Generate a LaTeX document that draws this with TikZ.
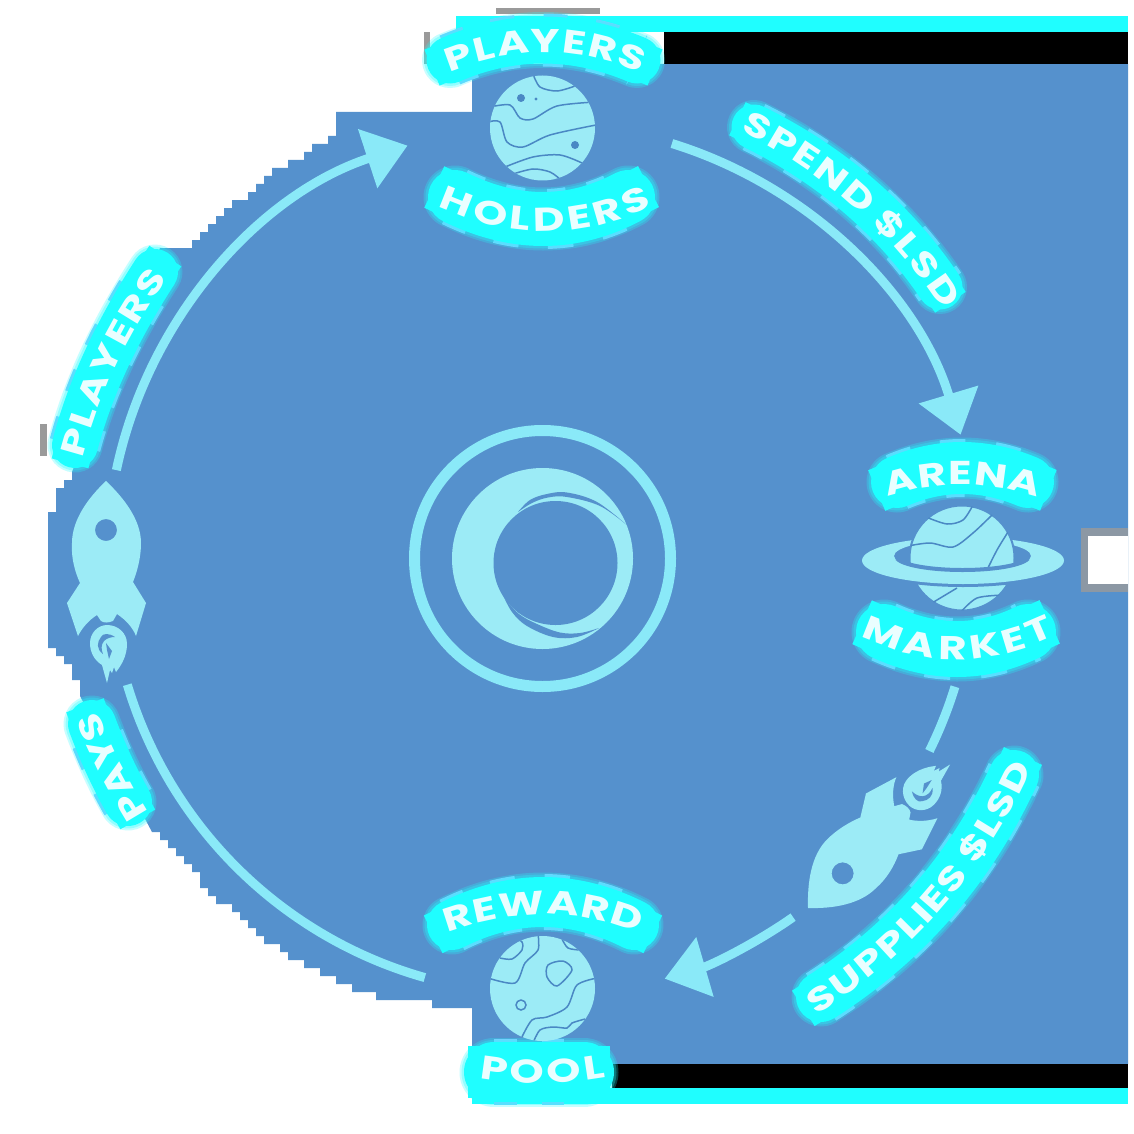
\documentclass[tikz,border=0pt]{standalone}
\usepackage{fontspec}
\usetikzlibrary{decorations.text,arrows.meta}
\newfontfamily\labface{Poppins}[FakeStretch=1.32]
\definecolor{bgblue}{HTML}{5591CD}
\definecolor{glowcyan}{HTML}{1FFEFF}
\definecolor{halo}{HTML}{8FC4FF}
\definecolor{palecyan}{HTML}{9CEBF6}
\definecolor{flowcyan}{HTML}{8AE9F8}
\definecolor{inkline}{HTML}{4A88C4}
\definecolor{labwhite}{HTML}{EAFEFF}
\definecolor{edgegray}{HTML}{9A9A9A}
\tikzset{
  planetbody/.style={circle,fill=palecyan,inner sep=0pt,minimum size=105pt},
  inkcurve/.style={draw=inkline,line width=1.5pt},
  flowline/.style={draw=flowcyan,fill=none,line width=9pt},
  flowhead/.style={-{Triangle[length=42pt,width=60pt,fill=flowcyan]}},
  bgcut/.style={fill=bgblue}
}
\newcommand\labsize{\fontsize{33}{33}\selectfont\labface\bfseries}
\newcommand\KK{\kern2.6pt}
\newcommand\KT{\kern1.2pt}
\newcommand\QC[6]{%
 \pgfmathsetmacro\qax{#1+2/3*(2*#3-(#1+#5)/2-#1)}%
 \pgfmathsetmacro\qay{#2+2/3*(2*#4-(#2+#6)/2-#2)}%
 \pgfmathsetmacro\qbx{#5+2/3*(2*#3-(#1+#5)/2-#5)}%
 \pgfmathsetmacro\qby{#6+2/3*(2*#4-(#2+#6)/2-#6)}%
}
\newcommand\labelband[7]{%
 \QC{#1}{#2}{#3}{#4}{#5}{#6}%
 \draw[halo,line cap=butt,dash pattern=on 22pt off 26pt,line width={#7+6}] (#1,#2) .. controls (\qax,\qay) and (\qbx,\qby) .. (#5,#6);
 \draw[glowcyan,opacity=.25,line cap=round,line width={#7+9}] (#1,#2) .. controls (\qax,\qay) and (\qbx,\qby) .. (#5,#6);
 \draw[glowcyan,opacity=.3,line cap=round,line width={#7+5}] (#1,#2) .. controls (\qax,\qay) and (\qbx,\qby) .. (#5,#6);
 \draw[glowcyan,line cap=round,line width={#7}] (#1,#2) .. controls (\qax,\qay) and (\qbx,\qby) .. (#5,#6);
 \draw[glowcyan,line cap=rect,line width={#7-8}] (#1,#2) .. controls (\qax,\qay) and (\qbx,\qby) .. (#5,#6);
}
\newcommand\labeltext[7]{%
 \QC{#1}{#2}{#3}{#4}{#5}{#6}%
 \path[decorate,decoration={text along path,text={|\labsize|#7},text align=center,text color=labwhite,raise=-11.5pt}]
   (#1,#2) .. controls (\qax,\qay) and (\qbx,\qby) .. (#5,#6);
}
% #1,#2 names; #3 radius; #4,#5 angles; #6 options
\newcommand\flowarc[6]{%
 \pgfmathsetmacro\kk{4/3*tan((#5-#4)/4)*#3}%
 \pgfmathsetmacro\pax{543+#3*cos(#4)}\pgfmathsetmacro\pay{560+#3*sin(#4)}%
 \pgfmathsetmacro\pbx{543+#3*cos(#5)}\pgfmathsetmacro\pby{560+#3*sin(#5)}%
 \pgfmathsetmacro\cax{\pax-\kk*sin(#4)}\pgfmathsetmacro\cay{\pay+\kk*cos(#4)}%
 \pgfmathsetmacro\cbx{\pbx+\kk*sin(#5)}\pgfmathsetmacro\cby{\pby-\kk*cos(#5)}%
 \coordinate (#1) at (\pax,\pay);
 \coordinate (#2) at (\pbx,\pby);
 \draw[flowline,#6] (#1) .. controls (\cax,\cay) and (\cbx,\cby) .. (#2);
}
\newcommand\rocketshape{%
 \fill[palecyan,even odd rule]
  (0,-99) .. controls (18,-82) and (35,-60) .. (35,-37) .. controls (35,-22) and (31,-8) .. (27,2)
  -- (40,23) -- (30,56) .. controls (27,48) and (20,40) .. (11,34) -- (7,41)
  .. controls (2,43) and (-2,43) .. (-5,41) -- (-9,35) .. controls (-17,40) and (-24,48) .. (-28,56)
  -- (-39,23) -- (-26,3) .. controls (-31,-8) and (-35,-22) .. (-34,-37)
  .. controls (-34,-60) and (-18,-82) .. (0,-99) -- cycle
  (11,-50) arc[radius=11,start angle=0,end angle=360];
 \fill[palecyan]
  (1,45) .. controls (12,45) and (21,53) .. (21,64) .. controls (21,74) and (17,82) .. (13,88)
  -- (10,92) -- (8,87) -- (6,93) -- (4,90) -- (1,103) -- (-4,85)
  .. controls (-12,80) and (-16,72) .. (-16,63) .. controls (-16,53) and (-8,45) .. (1,45) -- cycle;
 \fill[bgblue]
  (9,57) .. controls (3,53) and (-3,53) .. (-5,57) .. controls (-9,62) and (-10,69) .. (-3,74)
  .. controls (-5,69) and (-5,65) .. (-2,61) .. controls (1,58) and (5,57) .. (9,57) -- cycle;
 \fill[bgblue] (0,63) -- (6,71) -- (3,79) -- (1,70) -- cycle;
}
\begin{document}
\begin{tikzpicture}[x=1pt,y=-1pt]
\useasboundingbox (0,0) rectangle (1134,1134);
\fill[white] (0,0) rectangle (1134,1134);
% faint edge marks
\fill[edgegray] (40,424) rectangle (47,456);
\fill[edgegray] (424,32) rectangle (430,64);
\fill[edgegray] (496,8) rectangle (600,14);
% stepped blue field
\fill[bgblue] (472,64) |- (336,112) |- (328,136) |- (312,144) |- (304,152) |- (288,160) |- (272,168)
 |- (264,176) |- (256,184) |- (248,192) |- (232,200) |- (224,208) |- (216,216) |- (208,224)
 |- (200,232) |- (192,240) |- (160,248) -- (72,472) |- (64,480) |- (56,488) |- (48,512)
 -- (48,648) -| (56,656) -| (64,664) -| (72,680) -| (80,696) -- (152,832)
 -| (160,840) -| (168,848) -| (176,856) -| (184,864) -| (192,872) -| (200,888) -| (208,896)
 -| (216,904) -| (232,912) -| (240,920) -| (248,928) -| (256,936) -| (264,944) -| (280,952)
 -| (288,960) -| (304,968) -| (320,976) -| (336,984) -| (352,992) -| (376,1000) -| (432,1008)
 -| (472,1040) -- (472,1064) -- (1128,1064) -- (1128,64) -- cycle;
% notch on the right
\fill[edgegray!80!bgblue] (1081,528) rectangle (1128,592);
\fill[white] (1088,536) rectangle (1128,584);
% bars
\fill[black] (664,32) rectangle (1128,64);
\fill[glowcyan] (456,16) rectangle (1128,32);
\fill[black] (612,1064) rectangle (1128,1088);
\fill[glowcyan] (472,1088) rectangle (1128,1104);
% connectors
\flowarc{fa}{fb}{436}{191.9}{251.9}{flowhead}
\flowarc{fc}{fd}{436}{287.2}{343.3}{flowhead}
\flowarc{fe}{ff}{431}{17.1}{26.3}{}
\flowarc{fg}{fh}{436}{55}{73.8}{flowhead}
\flowarc{fi}{fj}{434}{105.8}{163.3}{}
% centre logo
\node[circle,draw=flowcyan,line width=11pt,inner sep=0pt,minimum size=256pt] (ring) at (542.5,558.5) {};
\node[circle,fill=palecyan,inner sep=0pt,minimum size=181pt] (disc) at (542.5,558.5) {};
\node[circle,fill=bgblue,inner sep=0pt,minimum size=124pt] (hole) at (555.5,563) {};
\fill[bgblue] plot[smooth,tension=.6] coordinates {(518,512) (530,500) (547,494) (567,492.5) (597,502) (628,526)}
 -- plot[smooth,tension=.6] coordinates {(628,526) (600,506) (567,497) (548,497.5) (532,503) (518,512)} -- cycle;
\fill[bgblue] plot[smooth,tension=.6] coordinates {(502,593) (512,612) (527,626) (553,637) (577,637) (599,628)}
 -- plot[smooth,tension=.6] coordinates {(599,628) (580,633) (560,632.5) (537,624) (519,614) (506,600) (502,593)} -- cycle;
% label bands
\labelband{450}{60}{543}{40}{637}{60}{47}
\labelband{455}{197}{543}{219}{628}{197}{54}
\labelband{897}{482}{962}{468}{1028}{482}{52}
\labelband{884}{632}{957}{649}{1028}{632}{56}
\labelband{452}{925}{543}{902}{634}{925}{50}
\labelband{494}{1072}{538}{1072}{584}{1072}{60}
\labelband{754}{127}{859}{196}{940}{287}{45}
\labelband{821}{997}{933}{901}{1014}{775}{50}
\labelband{75}{445}{106}{360}{155}{272}{46}
\labelband{128}{802}{109}{765}{92}{724}{48}
% label texts
\labeltext{420}{74}{545}{41}{670}{74}{{P\KK}{L\KK}{A\KK}{Y\KK}{E\KK}{R\KK}{S}}
\labeltext{425}{187}{545}{220}{665}{187}{{H\KK}{O\KK}{L\KK}{D\KK}{E\KK}{R\KK}{S}}
\labeltext{865}{494}{962}{473}{1060}{494}{{A\KK}{R\KK}{E\KK}{N\KK}{A}}
\labeltext{855}{620}{957}{648}{1060}{620}{{M\KK}{A\KK}{R\KK}{K\KK}{E\KK}{T}}
\labeltext{420}{932}{543}{903}{666}{932}{{R\KK}{E\KK}{W\KK}{A\KK}{R\KK}{D}}
\labeltext{460}{1062}{542}{1072}{625}{1062}{{P\KK}{O\KK}{O\KK}{L}}
\labeltext{706}{104}{859}{196}{975}{340}{{S\KK}{P\KK}{E\KK}{N\KK}{D\KK} {\$\KK}{L\KK}{S\KK}{D}}
\labeltext{768}{1030}{933}{901}{1041}{718}{{S\KT}{U\KT}{P\KT}{P\KT}{L\KT}{I\KT}{E\KT}{S\KT} {\$\KT}{L\KT}{S\KT}{D}}
\labeltext{63}{495}{106}{360}{183}{240}{{P\KK}{L\KK}{A\KK}{Y\KK}{E\KK}{R\KK}{S}}
\labeltext{175}{870}{109}{765}{68}{655}{PAYS}
% planet: players / holders
\node[planetbody] (playersplanet) at (542.5,128) {};
\begin{scope}
\clip (542.5,128) circle[radius=52.5];
\draw[inkcurve] plot[smooth] coordinates {(533,74) (540,87) (557,91) (575,86)};
\draw[inkcurve] plot[smooth] coordinates {(490,107) (510,105) (520,118) (533,119) (557,106) (595,102)};
\draw[inkcurve] plot[smooth] coordinates {(488,122) (500,122) (507,142) (523,147) (550,135) (596,125)};
\draw[inkcurve] plot[smooth] coordinates {(505,167) (533,157) (560,155) (582,163)};
\draw[inkcurve] plot[smooth] coordinates {(513,174) (533,169) (550,172) (561,180)};
\fill[inkline] (521,98) circle[radius=4] (536,99) circle[radius=1.6] (575,145) circle[radius=4];
\end{scope}
% planet: reward / pool
\node[planetbody] (rewardplanet) at (542.5,988.5) {};
\begin{scope}
\clip (542.5,988.5) circle[radius=52.5];
\draw[inkcurve] plot[smooth] coordinates {(500,958) (512,959) (522,950) (522,942) (515,938)};
\draw[inkcurve] plot[smooth] coordinates {(538,934) (538,950) (525,963) (515,983) (488,978)};
\draw[inkcurve] plot[smooth cycle] coordinates {(548,965) (563,961) (572,970) (557,986) (547,977)};
\draw[inkcurve] plot[smooth] coordinates {(562,939) (568,948) (580,950)};
\draw[inkcurve] plot[smooth] coordinates {(597,978) (577,985) (567,1007) (547,1017) (532,1020) (521,1039)};
\draw[inkcurve] plot[smooth] coordinates {(533,1043) (540,1030) (553,1027) (567,1028) (572,1023) (585,1019)};
\draw[inkcurve] (521,1005) circle[radius=5];
\end{scope}
% planet: arena / market
\fill[palecyan,even odd rule] (963,560.5) ellipse[x radius=101,y radius=23.5] (962.5,556) ellipse[x radius=68.5,y radius=16];
\node[planetbody,draw=bgblue,line width=2pt] (arenaplanet) at (962,558) {};
\begin{scope}
\clip (962,558) circle[radius=52.5];
\draw[inkcurve] plot[smooth] coordinates {(973,505) (963,520) (947,524) (926,517)};
\draw[inkcurve] plot[smooth] coordinates {(993,514) (973,533) (953,547) (930,543) (908,546)};
\draw[inkcurve] plot[smooth] coordinates {(1008,532) (997,550) (987,570)};
\draw[inkcurve] plot[smooth] coordinates {(932,603) (957,588)};
\draw[inkcurve] plot[smooth] coordinates {(960,613) (977,598) (1005,595)};
\end{scope}
\begin{scope}
\clip (850,560.5) rectangle (1075,600);
\draw[bgblue,line width=6pt] (963,560.5) ellipse[x radius=101,y radius=23.5];
\fill[palecyan,even odd rule] (963,560.5) ellipse[x radius=101,y radius=23.5] (962.5,556) ellipse[x radius=68.5,y radius=16];
\draw[bgblue,line width=4pt] (962.5,556) ellipse[x radius=66.5,y radius=14];
\end{scope}
% rockets
\begin{scope}[shift={(106,580)}]
\rocketshape
\end{scope}
\begin{scope}[shift={(878,838)},rotate=135]
\rocketshape
\end{scope}
\end{tikzpicture}
\end{document}
